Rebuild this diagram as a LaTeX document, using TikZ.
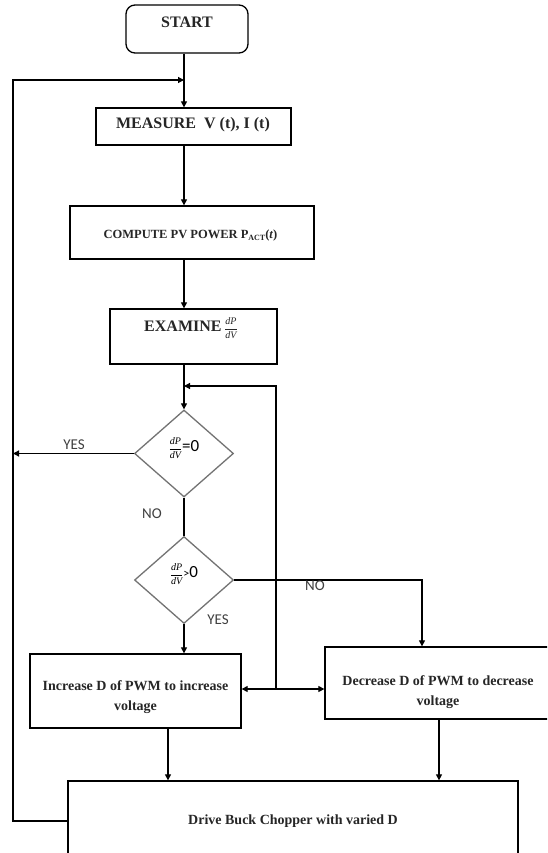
\documentclass[tikz,border=0pt]{standalone}
\usepackage{fontspec}
\setmainfont{Liberation Serif}
\newfontfamily\lblfont{Carlito}
\usetikzlibrary{shapes.geometric,arrows.meta}
\newcommand\mydpdv[1]{{\mdseries\fontsize{#1}{#1}\selectfont$\displaystyle\frac{\textit{dP}}{\textit{dV}}$}}
\begin{document}
\begin{tikzpicture}[x=1pt,y=-1pt,
  box/.style={draw=black, line width=1.3pt, rectangle, inner sep=0pt},
  txt/.style={inner sep=0pt, font=\bfseries\fontsize{14}{20}\selectfont, align=center, text=black!85},
  dec/.style={draw=black!55, line width=1.3pt, diamond, inner sep=0pt, minimum width=99pt, minimum height=87pt},
  arr/.style={line width=1.2pt, -{Triangle[length=6pt,width=6pt]}},
  ln/.style={line width=1.2pt},
  lbl/.style={font=\lblfont\fontsize{15}{15}\selectfont, text=black!75, inner sep=0pt}]
\useasboundingbox (0,0) rectangle (547,853);
\clip (0,0) rectangle (547,853);
\fill[white] (0,0) rectangle (547,853);

% boxes
\node[box, rounded corners=9pt, minimum width=122pt, minimum height=48pt] (start) at (187,29) {};
\node[txt, font=\bfseries\fontsize{16}{16}\selectfont] (startt) at (187,22) {START};

\node[box, minimum width=195pt, minimum height=37pt] (measure) at (193.5,126.5) {};
\node[txt, font=\bfseries\fontsize{16}{16}\selectfont] (measuret) at (193,125) {MEASURE~~V (t), I (t)};

\node[box, minimum width=244pt, minimum height=53pt] (compute) at (192,232.5) {};
\node[txt, font=\bfseries\fontsize{12.5}{13}\selectfont] (computet) at (190.5,235) {COMPUTE PV POWER P\raisebox{-2pt}{\fontsize{8}{8}\selectfont ACT}(\textit{t})};

\node[box, minimum width=167pt, minimum height=55pt] (examine) at (193.5,336.5) {};
\node[txt, font=\bfseries\fontsize{16}{16}\selectfont] (examinet) at (191,328) {EXAMINE\,\mydpdv{10}};

\node[dec] (d1) at (184,453.5) {};
\node[inner sep=0pt] (d1t) at (184,448) {\mydpdv{10}{\lblfont\fontsize{17}{17}\selectfont=0}};

\node[dec] (d2) at (184,580) {};
\node[inner sep=0pt] (d2t) at (184,574) {\mydpdv{10}{\lblfont\fontsize{17}{17}\selectfont{\fontsize{12}{12}\selectfont>}0}};

\node[box, minimum width=211pt, minimum height=74pt] (inc) at (135.5,691) {};
\node[txt] (inct) at (135.5,697) {Increase D of PWM to increase\\voltage};

\node[box, minimum width=226pt, minimum height=72pt] (dec) at (438,683) {};
\node[txt] (dect) at (438,692) {Decrease D of PWM to decrease\\voltage};

\node[box, minimum width=450pt, minimum height=80pt] (drive) at (293,821) {};
\node[txt] (drivet) at (293,821) {Drive Buck Chopper with varied D};

% helper coordinates
\coordinate (sp) at (184,0);
\coordinate (j1) at (184,80);
\coordinate (j2) at (276,689);
\coordinate (j3) at (184,386);
\coordinate (lx) at (13,0);
\coordinate (nx) at (422,0);
\coordinate (ix) at (168,0);
\coordinate (dx) at (439,0);

% connectors
\draw[arr] (sp |- start.south) -- (sp |- measure.north);
\draw[arr] (drive.west) -| (lx |- j1) -- (j1);
\draw[arr] (sp |- measure.south) -- (sp |- compute.north);
\draw[arr] (sp |- compute.south) -- (sp |- examine.north);
\draw[arr] (sp |- examine.south) -- (d1.north);
\draw[arr] (j2) |- (j3);
\draw[arr] (d1.west) -- (lx |- d1.west);
\draw[ln] (d1.south) -- (d2.north);
\draw[arr] (d2.east) -| (nx |- dec.north);
\draw[arr] (d2.south) -- (sp |- inc.north);
\draw[arr] (j2) -- (inc.east |- j2);
\draw[arr] (j2) -- (dec.west |- j2);
\draw[arr] (ix |- inc.south) -- (ix |- drive.north);
\draw[arr] (dx |- dec.south) -- (dx |- drive.north);

% labels
\node[lbl] (yes1) at (74,445) {YES};
\node[lbl] (no1) at (152,514) {NO};
\node[lbl] (no2) at (315,586) {NO};
\node[lbl] (yes2) at (218,620) {YES};
\end{tikzpicture}
\end{document}
